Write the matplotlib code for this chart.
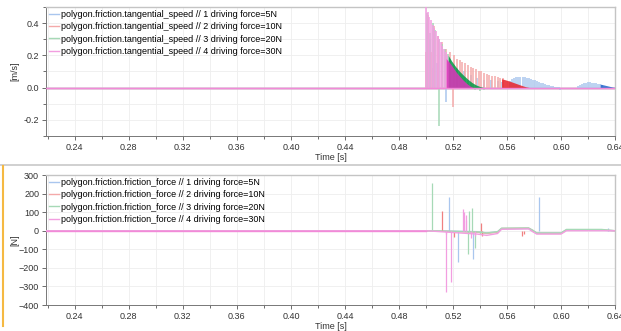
import numpy as np
import matplotlib.pyplot as plt
from matplotlib.ticker import MultipleLocator
from matplotlib.lines import Line2D

plt.rcParams['font.family'] = ['Liberation Sans', 'DejaVu Sans']

# time range shown
t_start = 0.2187
t_end = 0.64

forces = ['5N', '10N', '20N', '30N']
light = ['#a9c6ee', '#f4a9a9', '#a6d9b6', '#f29ee0']
dark = ['#2266cc', '#e8202a', '#009944', '#dd33bb']

# ---- tangential speed [m/s] : spikes (light) and dense part (dark fill)
spd_spike_t_1 = [0.5006, 0.5030, 0.5055, 0.5080, 0.5146, 0.5180, 0.5230, 0.5280, 0.5330, 0.5380,
                 0.5430, 0.5480, 0.5530, 0.5560, 0.5625, 0.5640, 0.5655, 0.5670, 0.5685, 0.5700,
                 0.5715, 0.5730, 0.5745, 0.5760, 0.5775, 0.5790, 0.5805, 0.5820, 0.5835, 0.5850,
                 0.5865, 0.5880, 0.5895, 0.5910, 0.5925, 0.5940, 0.5955, 0.5970, 0.5985, 0.5995,
                 0.6125, 0.6140, 0.6155, 0.6170, 0.6185, 0.6200, 0.6215, 0.6230, 0.6245, 0.6260,
                 0.6275, 0.6290, 0.6305]
spd_spike_v_1 = [0.40, 0.30, 0.12, 0.15, -0.09, 0.18, 0.12, 0.10, 0.08, 0.06,
                 0.05, 0.045, 0.04, 0.035, 0.040, 0.055, 0.062, 0.066, 0.068, 0.068,
                 0.067, 0.065, 0.062, 0.058, 0.054, 0.050, 0.046, 0.041, 0.036, 0.031,
                 0.027, 0.022, 0.018, 0.014, 0.010, 0.007, 0.004, 0.002, 0.001, -0.012,
                 0.012, 0.018, 0.024, 0.028, 0.031, 0.032, 0.032, 0.031, 0.029, 0.026,
                 0.023, 0.020, 0.017]
spd_fill_t_1 = [0.6290, 0.6320, 0.6350, 0.6380, 0.6400]
spd_fill_v_1 = [0.022, 0.016, 0.010, 0.004, 0.001]

spd_spike_t_2 = [0.5004, 0.5015, 0.5035, 0.5060, 0.5090, 0.5120, 0.5150, 0.5180, 0.5203, 0.5210,
                 0.5230, 0.5250, 0.5270, 0.5290, 0.5310, 0.5330, 0.5350, 0.5370, 0.5390, 0.5410,
                 0.5430, 0.5450, 0.5470, 0.5490, 0.5510, 0.5530, 0.5550, 0.5570]
spd_spike_v_2 = [0.22, 0.45, 0.22, 0.38, 0.32, 0.28, 0.24, 0.22, -0.12, 0.20,
                 0.18, 0.17, 0.16, 0.15, 0.14, 0.13, 0.12, 0.115, 0.105, 0.10,
                 0.092, 0.085, 0.08, 0.075, 0.07, 0.066, 0.062, 0.058]
spd_fill_t_2 = [0.5560, 0.5590, 0.5620, 0.5650, 0.5680, 0.5710, 0.5740, 0.5770]
spd_fill_v_2 = [0.055, 0.048, 0.040, 0.031, 0.022, 0.013, 0.005, 0.0]

spd_spike_t_3 = [0.5010, 0.5030, 0.5050, 0.5070, 0.5097, 0.5100, 0.5120, 0.5140, 0.5160, 0.5320,
                 0.5360, 0.5400, 0.5430, 0.5460]
spd_spike_v_3 = [0.46, 0.34, 0.40, 0.36, -0.24, 0.30, 0.27, 0.24, 0.21, -0.01,
                 -0.015, -0.02, -0.015, -0.01]
spd_fill_t_3 = [0.5165, 0.5190, 0.5220, 0.5250, 0.5280, 0.5310, 0.5340, 0.5370, 0.5400, 0.5430]
spd_fill_v_3 = [0.20, 0.165, 0.13, 0.10, 0.075, 0.052, 0.032, 0.017, 0.007, 0.0]

spd_spike_t_4 = [0.5002, 0.5014, 0.5026, 0.5038, 0.5050, 0.5062, 0.5074, 0.5086, 0.5098, 0.5110,
                 0.5122, 0.5134, 0.5146, 0.5158]
spd_spike_v_4 = [0.50, 0.47, 0.44, 0.42, 0.39, 0.37, 0.35, 0.32, 0.30, 0.28,
                 0.26, 0.24, 0.22, 0.20]
spd_fill_t_4 = [0.5150, 0.5175, 0.5200, 0.5225, 0.5250, 0.5275, 0.5300, 0.5325, 0.5350]
spd_fill_v_4 = [0.18, 0.155, 0.125, 0.095, 0.07, 0.047, 0.027, 0.011, 0.0]

# ---- friction force [N] : slow trace and spikes
frc_t_1 = [t_start, 0.5000, 0.5380, 0.5450, 0.5530, 0.5560, 0.5760, 0.5790, 0.5820, 0.6000, 0.6040, 0.6300, 0.6400]
frc_v_1 = [0, 0, -5, -12, -6, 10, 12, 0, -12, -12, 3, 3, 0]
frc_t_2 = [t_start, 0.5000, 0.5380, 0.5450, 0.5530, 0.5560, 0.5760, 0.5790, 0.5820, 0.6000, 0.6040, 0.6300, 0.6400]
frc_v_2 = [0, 0, -8, -15, -8, 12, 14, 2, -14, -14, 4, 4, 0]
frc_t_3 = [t_start, 0.5000, 0.5380, 0.5450, 0.5530, 0.5560, 0.5760, 0.5790, 0.5820, 0.6000, 0.6040, 0.6300, 0.6400]
frc_v_3 = [0, 0, -6, -12, -5, 14, 15, 3, -12, -12, 7, 7, 0]
frc_t_4 = [t_start, 0.5000, 0.5380, 0.5450, 0.5530, 0.5560, 0.5760, 0.5790, 0.5820, 0.6000, 0.6040, 0.6300, 0.6400]
frc_v_4 = [0, 0, -18, -25, -15, 8, 10, -5, -18, -18, 0, 0, 0]

frc_spike_t_1 = [0.5173, 0.5240, 0.5352, 0.5840, 0.6345]
frc_spike_v_1 = [180, -167, -154, 180, 15]
frc_spike_t_2 = [0.5117, 0.5205, 0.5410, 0.5413, 0.5709, 0.5727]
frc_spike_v_2 = [108, -32, 43, -30, -27, -15]
frc_spike_t_3 = [0.5047, 0.5310, 0.5322, 0.5342, 0.5360, 0.5400]
frc_spike_v_3 = [258, -127, 108, 120, -95, -20]
frc_spike_t_4 = [0.5146, 0.5149, 0.5188, 0.5277, 0.5285, 0.5293, 0.5300, 0.5330, 0.5365]
frc_spike_v_4 = [-15, -332, -276, 115, 100, 85, 60, -40, -30]

spd_spikes = [(spd_spike_t_1, spd_spike_v_1), (spd_spike_t_2, spd_spike_v_2),
              (spd_spike_t_3, spd_spike_v_3), (spd_spike_t_4, spd_spike_v_4)]
spd_fills = [(spd_fill_t_1, spd_fill_v_1), (spd_fill_t_2, spd_fill_v_2),
             (spd_fill_t_3, spd_fill_v_3), (spd_fill_t_4, spd_fill_v_4)]
frc_lines = [(frc_t_1, frc_v_1), (frc_t_2, frc_v_2), (frc_t_3, frc_v_3), (frc_t_4, frc_v_4)]
frc_spikes = [(frc_spike_t_1, frc_spike_v_1), (frc_spike_t_2, frc_spike_v_2),
              (frc_spike_t_3, frc_spike_v_3), (frc_spike_t_4, frc_spike_v_4)]

fs = 6.5
fig = plt.figure(figsize=(6.21, 3.31), dpi=100)
ax1 = fig.add_axes([0.0741, 0.5891, 0.9163, 0.3898])
ax2 = fig.add_axes([0.0741, 0.0785, 0.9163, 0.3927])


def style(ax):
    ax.set_xlim(t_start, t_end)
    ax.xaxis.set_major_locator(MultipleLocator(0.04))
    ax.xaxis.set_minor_locator(MultipleLocator(0.02))
    ax.xaxis.set_major_formatter(plt.FuncFormatter(lambda v, p: '%.2f' % v))
    ax.grid(True, which='both', color='#eeeeee', lw=0.6)
    ax.set_axisbelow(True)
    ax.tick_params(labelsize=fs, colors='#555555', labelcolor='#333333', length=3, width=0.6, pad=2)
    ax.tick_params(which='minor', length=2, width=0.6, colors='#555555')
    for s in ['left', 'bottom']:
        ax.spines[s].set_color('#777777')
        ax.spines[s].set_linewidth(0.7)
    for s in ['top', 'right']:
        ax.spines[s].set_color('#c4c4c4')
        ax.spines[s].set_linewidth(1.0)
    ax.set_xlabel('Time [s]', fontsize=fs, color='#333333', labelpad=1)
    ax.yaxis.set_label_coords(-0.047, 0.5)


# top panel
for i in range(4):
    ax1.plot([t_start, t_end], [0, 0], color=light[i], lw=1.0, zorder=2)
    t, v = spd_spikes[i]
    ax1.vlines(t, 0, v, color=light[i], lw=1.1, zorder=3)
    t, v = spd_fills[i]
    ax1.fill_between(t, 0, v, color=dark[i], lw=0, alpha=0.85, zorder=4)
ax1.plot([t_start, t_end], [0, 0], color='#f28ad8', lw=1.0, zorder=5)
ax1.set_ylim(-0.3, 0.5)
ax1.yaxis.set_major_locator(MultipleLocator(0.2))
ax1.yaxis.set_minor_locator(MultipleLocator(0.1))
ax1.yaxis.set_major_formatter(plt.FuncFormatter(lambda v, p: '%.1f' % v))
ax1.set_ylabel('[m/s]', fontsize=fs, color='#333333')
style(ax1)

# bottom panel
for i in range(4):
    t, v = frc_lines[i]
    ax2.plot(t, v, color=light[i], lw=1.0, zorder=3)
    t, v = frc_spikes[i]
    ax2.vlines(t, 0, v, color=light[i] if i != 1 else '#f08080', lw=0.9, zorder=3)
ax2.plot([t_start, 0.5], [0, 0], color='#f28ad8', lw=1.0, zorder=5)
ax2.set_ylim(-400, 300)
ax2.yaxis.set_major_locator(MultipleLocator(100))
ax2.set_ylabel('[N]', fontsize=fs, color='#333333')
style(ax2)

# legends
h = [Line2D([], [], color=light[i], lw=1.0) for i in range(4)]
leg_kw = dict(loc='upper left', bbox_to_anchor=(0.0, 1.0), frameon=False, fontsize=fs,
              handlelength=1.1, handletextpad=0.3, labelspacing=0.38, borderaxespad=0.2, borderpad=0.1)
ax1.legend(h, ['polygon.friction.tangential_speed // %d driving force=%s' % (i + 1, forces[i]) for i in range(4)],
           **leg_kw)
ax2.legend(h, ['polygon.friction.friction_force // %d driving force=%s' % (i + 1, forces[i]) for i in range(4)],
           **leg_kw)

# panel separators
fig.add_artist(Line2D([0, 1], [1 - 165 / 331, 1 - 165 / 331], color='#c8c8c8', lw=1.2))
fig.add_artist(Line2D([3 / 621, 3 / 621], [1 - 166 / 331, 1 - 326 / 331], color='#f5b942', lw=1.5))

plt.savefig('out.png', dpi=100)
